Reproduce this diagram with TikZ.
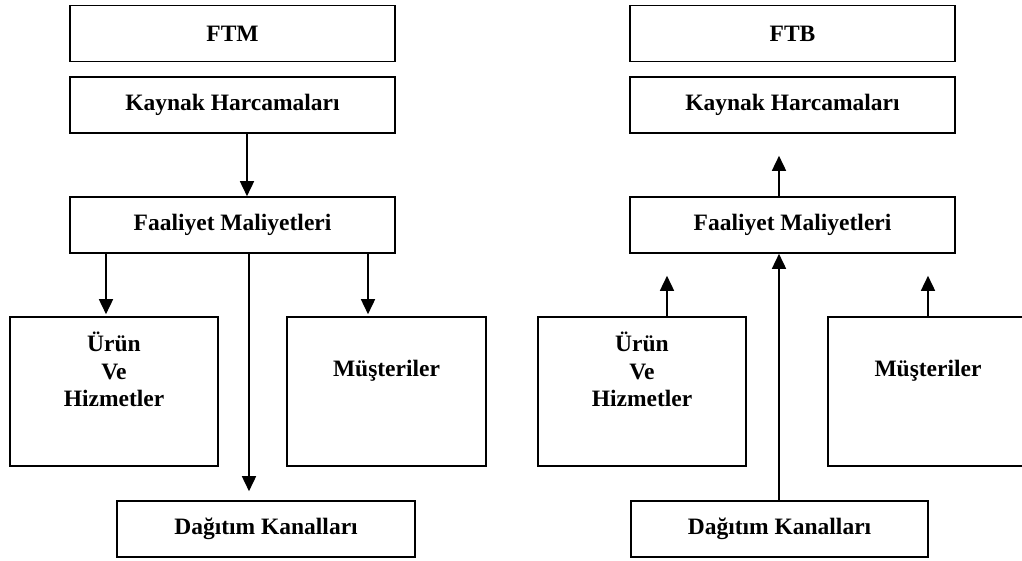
\documentclass[tikz,border=0pt]{standalone}
\usepackage{fontspec}
\setmainfont{Liberation Serif}
\usetikzlibrary{arrows.meta}
\begin{document}
\begin{tikzpicture}[x=1pt,y=-1pt,
  txt/.style={font=\bfseries\fontsize{23.5}{27.5}\selectfont, inner sep=0pt},
  box/.style={draw, line width=1.6pt, txt},
  wide/.style={box, minimum width=325pt, minimum height=56pt},
  tall/.style={box, minimum height=149pt},
  arr/.style={line width=1.6pt, -{Triangle[length=15pt,width=14pt]}}]
\useasboundingbox (0,0) rectangle (1022,560);
\clip (0,0) rectangle (1022,560);

% --- left flow: FTM ---
\node[wide] (ftm) at (232.5,33.5) {FTM};
\node[wide] (kL) at (232.5,105) {Kaynak Harcamaları};
\node[wide] (fL) at (232.5,225) {Faaliyet Maliyetleri};
\node[tall, minimum width=208pt] (uL) at (114,391.5) {};
\node[txt, align=center, anchor=north] (uLt) at ([yshift=-16]uL.north) {Ürün\\Ve\\Hizmetler};
\node[tall, minimum width=199pt] (mL) at (386.5,391.5) {};
\node[txt] (mLt) at ([yshift=20.5]mL.center) {Müşteriler};
\node[wide, minimum width=298pt] (dL) at (266,529) {Dağıtım Kanalları};

\coordinate (a1) at ([xshift=14.5]fL.north);
\coordinate (a2) at ([xshift=-8]uL.north);
\coordinate (a3) at ([xshift=-17]dL.north);
\coordinate (a4) at ([xshift=-18.5]mL.north);
\draw[arr] (kL.south -| a1) -- (a1);
\draw[arr] (fL.south -| a2) -- ([yshift=2]a2);
\draw[arr] (fL.south -| a3) -- ([yshift=9]a3);
\draw[arr] (fL.south -| a4) -- ([yshift=2]a4);

% --- right flow: FTB ---
\node[wide] (ftb) at (792.5,33.5) {FTB};
\node[wide] (kR) at (792.5,105) {Kaynak Harcamaları};
\node[wide] (fR) at (792.5,225) {Faaliyet Maliyetleri};
\node[tall, minimum width=208pt] (uR) at (642,391.5) {};
\node[txt, align=center, anchor=north] (uRt) at ([yshift=-16]uR.north) {Ürün\\Ve\\Hizmetler};
\node[tall, minimum width=200pt] (mR) at (928,391.5) {};
\node[txt] (mRt) at ([yshift=20.5]mR.center) {Müşteriler};
\node[wide, minimum width=297pt] (dR) at (779.5,529) {Dağıtım Kanalları};

\coordinate (b1) at ([xshift=-13.5]fR.north);
\coordinate (b2) at ([xshift=25]uR.north);
\coordinate (b3) at ([xshift=-0.5]dR.north);
\coordinate (b4) at (mR.north);
\draw[arr, shorten >=22pt] (b1) -- (kR.south -| b1);
\draw[arr, shorten >=22pt] (b2) -- (fR.south -| b2);
\draw[arr] (b3) -- (fR.south -| b3);
\draw[arr, shorten >=22pt] (b4) -- (fR.south -| b4);
\end{tikzpicture}
\end{document}
